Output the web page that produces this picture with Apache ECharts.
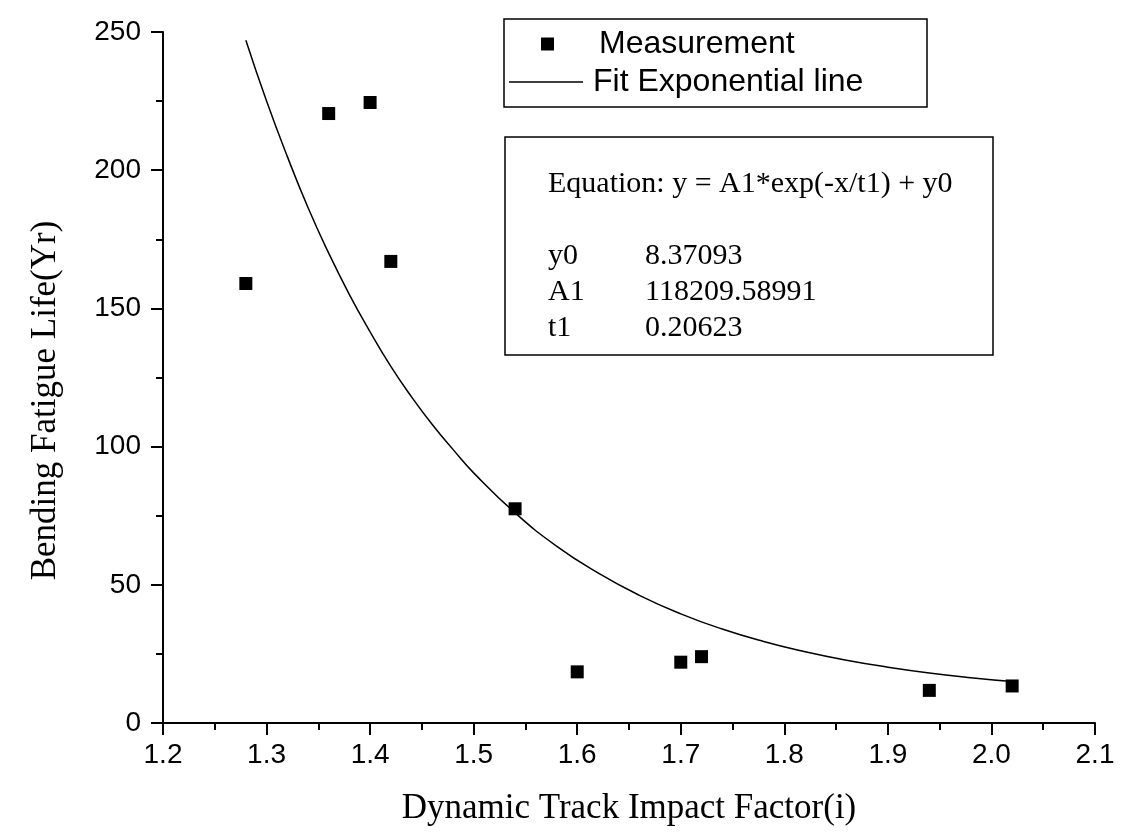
<!DOCTYPE html>
<html>
<head>
    <meta charset="utf-8">
    <title>Bending Fatigue Life</title>
    <script src="https://cdn.jsdelivr.net/npm/echarts@6/dist/echarts.min.js"></script>
</head>
<body>
<style>
    html, body, #main {
        width: 100%;
        height: 100%;
        padding: 0;
        margin: 0;
        background: #fff;
    }
</style>
<div id="main"></div>
<script type="text/javascript">
    // measured points (impact factor, fatigue life)
    var measX = [1.28, 1.36, 1.40, 1.42, 1.54, 1.60, 1.70, 1.72, 1.94, 2.02];
    var measY = [159, 220.5, 224.5, 167, 77.5, 18.5, 22, 24, 11.8, 13.4];

    // fitted exponential curve
    var fitX = [1.28, 1.30, 1.32, 1.34, 1.36, 1.38, 1.40, 1.42, 1.44, 1.46, 1.48, 1.50, 1.54, 1.58,
                1.62, 1.66, 1.70, 1.74, 1.78, 1.82, 1.86, 1.90, 1.94, 1.98, 2.02];
    var fitY = [247, 225, 205, 186.5, 170, 155, 141.5, 129, 118, 108, 99, 90.5, 76, 64,
                54.3, 46.2, 39.5, 34, 29.5, 25.8, 22.7, 20.2, 18.1, 16.4, 15];

    var xTicks = ['1.2', '1.3', '1.4', '1.5', '1.6', '1.7', '1.8', '1.9', '2.0', '2.1'];

    var eqTitle = 'Equation: y = A1*exp(-x/t1) + y0';
    var paramNames = ['y0', 'A1', 't1'];
    var paramValues = ['8.37093', '118209.58991', '0.20623'];

    var myChart = echarts.init(document.getElementById('main'));

    var sans = 'Liberation Sans, Arial, sans-serif';
    var serif = 'Liberation Serif, Times New Roman, serif';

    function zip(xs, ys) {
        return xs.map(function (x, i) { return [x, ys[i]]; });
    }

    var graphics = [
        // legend frame
        {
            type: 'rect',
            shape: {x: 504, y: 19, width: 423, height: 88},
            style: {fill: 'none', stroke: '#000', lineWidth: 1.5},
            z: 10
        },
        // fit parameter box
        {
            type: 'rect',
            shape: {x: 505, y: 137, width: 488, height: 218},
            style: {fill: '#fff', stroke: '#000', lineWidth: 1.5},
            z: 10
        },
        {
            type: 'text',
            x: 548, y: 184,
            style: {text: eqTitle, font: '30px ' + serif, fill: '#000', verticalAlign: 'middle'},
            z: 11
        }
    ];
    paramNames.forEach(function (n, i) {
        graphics.push({
            type: 'text', x: 548, y: 256 + i * 36,
            style: {text: n, font: '30px ' + serif, fill: '#000', verticalAlign: 'middle'},
            z: 11
        });
        graphics.push({
            type: 'text', x: 645, y: 256 + i * 36,
            style: {text: paramValues[i], font: '30px ' + serif, fill: '#000', verticalAlign: 'middle'},
            z: 11
        });
    });

    myChart.setOption({
        animation: false,
        backgroundColor: '#fff',
        grid: {left: 163, right: 34, top: 32, bottom: 110},
        legend: [
            {
                data: [{name: 'Measurement', icon: 'rect'}],
                left: 541, top: 28, padding: 0,
                itemWidth: 13, itemHeight: 13,
                textStyle: {fontFamily: sans, fontSize: 32, color: '#000', padding: [0, 0, 0, 40]}
            },
            {
                data: [{name: 'Fit Exponential line', icon: 'rect'}],
                left: 509, top: 66, padding: 0,
                itemWidth: 74, itemHeight: 1.5,
                textStyle: {fontFamily: sans, fontSize: 32, color: '#000', padding: [0, 0, 8, 5]}
            }
        ],
        xAxis: {
            type: 'value',
            min: 1.2, max: 2.1, interval: 0.1,
            name: 'Dynamic Track Impact Factor(i)',
            nameLocation: 'middle', nameGap: 68,
            nameTextStyle: {fontFamily: serif, fontSize: 35, color: '#000'},
            axisLine: {lineStyle: {color: '#000', width: 2}},
            axisTick: {length: 12, lineStyle: {color: '#000', width: 2}},
            minorTick: {show: true, splitNumber: 2, length: 7, lineStyle: {color: '#000', width: 2}},
            splitLine: {show: false},
            axisLabel: {
                fontFamily: sans, fontSize: 28, color: '#000', margin: 18,
                formatter: function (v) { return xTicks[Math.round((v - 1.2) * 10)]; }
            }
        },
        yAxis: {
            type: 'value',
            min: 0, max: 250, interval: 50,
            name: 'Bending Fatigue Life(Yr)',
            nameLocation: 'middle', nameGap: 100,
            nameTextStyle: {fontFamily: serif, fontSize: 35, color: '#000', padding: [0, 46, 0, 0]},
            axisLine: {show: true, lineStyle: {color: '#000', width: 2}},
            axisTick: {show: true, length: 12, lineStyle: {color: '#000', width: 2}},
            minorTick: {show: true, splitNumber: 2, length: 7, lineStyle: {color: '#000', width: 2}},
            splitLine: {show: false},
            axisLabel: {fontFamily: sans, fontSize: 28, color: '#000', margin: 22}
        },
        graphic: graphics,
        series: [
            {
                name: 'Measurement',
                type: 'scatter',
                symbol: 'rect',
                symbolSize: 13,
                itemStyle: {color: '#000', opacity: 1},
                data: zip(measX, measY),
                z: 3
            },
            {
                name: 'Fit Exponential line',
                type: 'line',
                smooth: true,
                showSymbol: false,
                itemStyle: {color: '#000'},
                lineStyle: {color: '#000', width: 1.5},
                data: zip(fitX, fitY),
                z: 2
            }
        ]
    });

    window.onresize = function () {
        myChart.resize();
    };
</script>
</body>
</html>
